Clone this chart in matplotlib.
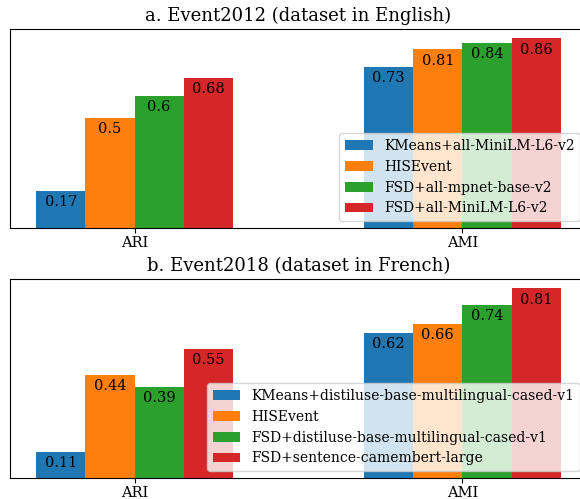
import numpy as np
import matplotlib
matplotlib.use("Agg")
import matplotlib.pyplot as plt

plt.rcParams['font.family'] = 'DejaVu Serif'

metrics = ["ARI", "AMI"]

# Event2012 (English)
methods_en = ["KMeans+all-MiniLM-L6-v2", "HISEvent",
              "FSD+all-mpnet-base-v2", "FSD+all-MiniLM-L6-v2"]
scores_en = [[0.17, 0.73],
             [0.5, 0.81],
             [0.6, 0.84],
             [0.68, 0.86]]

# Event2018 (French)
methods_fr = ["KMeans+distiluse-base-multilingual-cased-v1", "HISEvent",
              "FSD+distiluse-base-multilingual-cased-v1",
              "FSD+sentence-camembert-large"]
scores_fr = [[0.11, 0.62],
             [0.44, 0.66],
             [0.39, 0.74],
             [0.55, 0.81]]

colors = ["#1f77b4", "#ff7f0e", "#2ca02c", "#d62728"]

fig = plt.figure(figsize=(5.8, 4.99), dpi=100)
ax1 = fig.add_axes([0.0172, 0.5431, 0.9948, 0.3988])
ax2 = fig.add_axes([0.0172, 0.0421, 0.9948, 0.3988])


def draw(ax, methods, scores, title):
    x = np.arange(len(metrics))
    width = 0.15
    for i, (name, vals) in enumerate(zip(methods, scores)):
        offset = (i - 1.5) * width
        bars = ax.bar(x + offset, vals, width, label=name, color=colors[i])
        for b, v in zip(bars, vals):
            ax.annotate(str(v), (b.get_x() + b.get_width() / 2, v),
                        xytext=(0, -3), textcoords="offset points",
                        ha="center", va="top", fontsize=10.5)
    ax.set_xticks(x)
    ax.set_xticklabels(metrics, fontsize=10.5)
    ax.tick_params(axis="x", pad=2)
    ax.set_yticks([])
    ax.set_title(title, fontsize=13)
    ax.legend(loc="lower right")


draw(ax1, methods_en, scores_en, "a. Event2012 (dataset in English)")
draw(ax2, methods_fr, scores_fr, "b. Event2018 (dataset in French)")

fig.savefig("out.png", dpi=100)
